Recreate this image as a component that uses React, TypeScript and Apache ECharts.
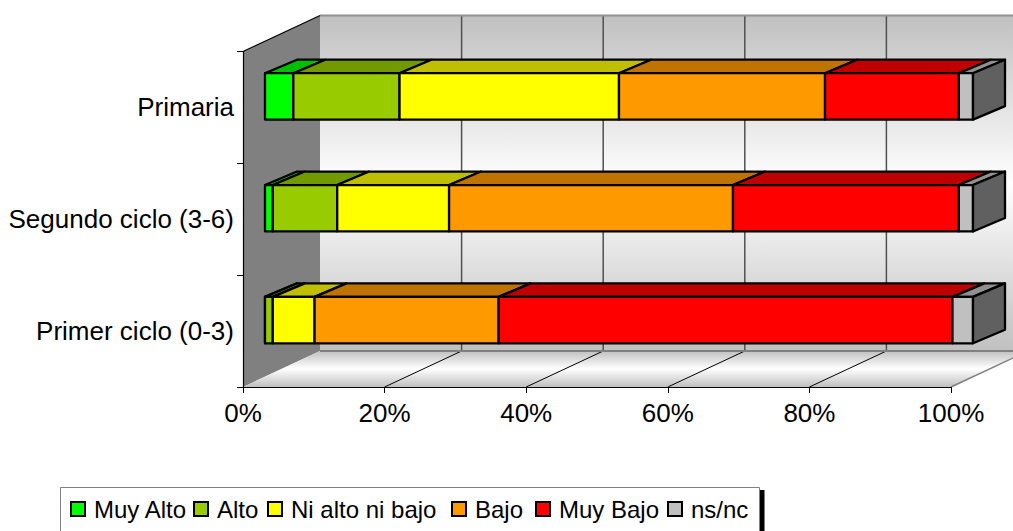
import React, { useEffect, useRef } from "react";
import * as echarts from "echarts";

const categories = ["Primer ciclo (0-3)", "Segundo ciclo (3-6)", "Primaria"];
const percentTicks = [0, 20, 40, 60, 80, 100];
const seriesNames = ["Muy Alto", "Alto", "Ni alto ni bajo", "Bajo", "Muy Bajo", "ns/nc"];
const muyAlto = [0, 1.1, 4];
const alto = [1.1, 9.1, 15];
const niAltoNiBajo = [5.9, 15.8, 31];
const bajo = [26, 40.1, 29.1];
const muyBajo = [64.1, 31.9, 18.9];
const nsNc = [2.9, 2, 2];
const seriesValues = [muyAlto, alto, niAltoNiBajo, bajo, muyBajo, nsNc];
const frontColors = ["#00ff00", "#99cc00", "#ffff00", "#ff9900", "#ff0000", "#c0c0c0"];
const topColors = ["#00bf00", "#739900", "#bfbf00", "#bf7300", "#bf0000", "#909090"];
const legendLefts = [70, 193, 267, 451, 535, 667];
const sideColor = "#606060";

const WALL_DX = 77;
const WALL_DY = -36;
const BAR_OFFSET_X = 22;
const BAR_OFFSET_Y = -11;
const BAR_DEPTH_X = 32;
const BAR_DEPTH_Y = -13.5;
const BAR_RATIO = 0.415;
const BAR_LINE = 2.3;

const stripes = () =>
  new echarts.graphic.LinearGradient(0, 0, 0, 1, [
    { offset: 0, color: "#c0c0c0" },
    { offset: 0.5, color: "#ffffff" },
    { offset: 1, color: "#c0c0c0" },
  ]);

const poly = (points: number[][], fill: any, stroke?: string, lineWidth = 0) => ({
  type: "polygon",
  shape: { points },
  style: { fill, stroke: stroke ?? "none", lineWidth, lineJoin: "round" },
});

const seg = (a: number[], b: number[], stroke: string, lineWidth: number) => ({
  type: "line",
  shape: { x1: a[0], y1: a[1], x2: b[0], y2: b[1] },
  style: { stroke, lineWidth },
});

const renderWalls = (_: any, api: any) => {
  const band = api.size([0, 1])[1];
  const cy0 = api.coord([0, 0])[1];
  const cy2 = api.coord([0, categories.length - 1])[1];
  const bottom = cy0 + band / 2;
  const top = cy2 - band / 2;
  const x0 = api.coord([0, 0])[0];
  const x1 = api.coord([100, 0])[0];
  const backL = x0 + WALL_DX;
  const backR = x1 + WALL_DX;
  const children: any[] = [
    poly([[backL, top + WALL_DY], [backR, top + WALL_DY], [backR, bottom + WALL_DY], [backL, bottom + WALL_DY]], stripes()),
    poly([[x0, top], [backL, top + WALL_DY], [backL, bottom + WALL_DY], [x0, bottom]], "#808080"),
    poly([[x0, bottom], [x1, bottom], [backR, bottom + WALL_DY], [backL, bottom + WALL_DY]], stripes()),
  ];
  percentTicks.slice(1).forEach((t) => {
    const x = api.coord([t, 0])[0];
    children.push(seg([x + WALL_DX, top + WALL_DY], [x + WALL_DX, bottom + WALL_DY], "#505050", 1.5));
    if (t < 100) children.push(seg([x, bottom], [x + WALL_DX, bottom + WALL_DY], "#000000", 1));
  });
  children.push(seg([backL, top + WALL_DY], [backR, top + WALL_DY], "#909090", 2));
  children.push(seg([backL, bottom + WALL_DY], [backR, bottom + WALL_DY], "#808080", 2));
  children.push(seg([x1, bottom], [backR, bottom + WALL_DY], "#808080", 1.5));
  children.push(seg([x0, top], [backL, top + WALL_DY], "#000000", 1.2));
  return { type: "group", children };
};

const makeBarRenderer = (index: number) => (_: any, api: any) => {
  const start = api.coord([api.value(0), api.value(2)]);
  const end = api.coord([api.value(1), api.value(2)]);
  const h = api.size([0, 1])[1] * BAR_RATIO;
  const xa = start[0] + BAR_OFFSET_X;
  const xb = end[0] + BAR_OFFSET_X;
  const yt = start[1] + BAR_OFFSET_Y - h / 2;
  const yb = start[1] + BAR_OFFSET_Y + h / 2;
  const children: any[] = [
    poly([[xa, yt], [xa + BAR_DEPTH_X, yt + BAR_DEPTH_Y], [xb + BAR_DEPTH_X, yt + BAR_DEPTH_Y], [xb, yt]], topColors[index], "#000000", BAR_LINE),
    poly([[xa, yt], [xb, yt], [xb, yb], [xa, yb]], frontColors[index], "#000000", BAR_LINE),
  ];
  if (index === seriesNames.length - 1) {
    children.push(
      poly([[xb, yt], [xb + BAR_DEPTH_X, yt + BAR_DEPTH_Y], [xb + BAR_DEPTH_X, yb + BAR_DEPTH_Y], [xb, yb]], sideColor, "#000000", BAR_LINE),
    );
  }
  return { type: "group", children };
};

const buildSeries = () => {
  const cumulative = categories.map(() => 0);
  return seriesNames.map((name, i) => {
    const data = categories.map((_, c) => {
      const s = cumulative[c];
      cumulative[c] = s + seriesValues[i][c];
      return [s, cumulative[c], c];
    });
    return {
      type: "custom",
      name,
      z: 3,
      silent: true,
      itemStyle: { color: frontColors[i], borderColor: "#000000", borderWidth: 2 },
      encode: { x: [0, 1], y: 2 },
      renderItem: makeBarRenderer(i),
      data,
    };
  });
};

export default function App() {
  const ref = useRef<HTMLDivElement>(null);
  useEffect(() => {
    const chart = echarts.init(ref.current!, undefined, { renderer: "svg" });
    chart.setOption({
      animation: false,
      backgroundColor: "#ffffff",
      textStyle: { fontFamily: "Liberation Sans", color: "#000000" },
      grid: { left: 243, top: 51.5, width: 708, height: 335.5, containLabel: false },
      xAxis: {
        type: "value",
        min: 0,
        max: 100,
        interval: 20,
        z: 5,
        axisLine: { show: true, lineStyle: { color: "#000000", width: 1.2 } },
        axisTick: { show: true, length: 6, lineStyle: { color: "#000000" } },
        splitLine: { show: false },
        axisLabel: { formatter: "{value}%", fontSize: 26, color: "#000000", margin: 13, fontFamily: "Liberation Sans" },
      },
      yAxis: {
        type: "category",
        data: categories,
        z: 5,
        axisLine: { show: true, lineStyle: { color: "#000000", width: 1.2 } },
        axisTick: { show: true, length: 6, alignWithLabel: false, lineStyle: { color: "#000000" } },
        axisLabel: { fontSize: 26, color: "#000000", margin: 9, fontFamily: "Liberation Sans" },
      },
      legend: seriesNames.map((name, i) => ({
        data: [name],
        left: legendLefts[i],
        top: 497,
        padding: 0,
        itemWidth: 14,
        itemHeight: 14,
        icon: "rect",
        selectedMode: false,
        textStyle: { fontSize: 24, color: "#000000", fontFamily: "Liberation Sans", padding: [0, 0, 0, 4] },
      })),
      graphic: [
        { type: "rect", z: 1, shape: { x: 759, y: 490, width: 5.5, height: 41 }, style: { fill: "#000000" } },
        { type: "rect", z: 2, shape: { x: 60.5, y: 487.5, width: 699, height: 60 }, style: { fill: "#ffffff", stroke: "#808080", lineWidth: 1 } },
      ],
      series: [
        { type: "custom", name: "walls", z: 1, silent: true, renderItem: renderWalls, encode: { x: 0, y: 1 }, data: [[0, 0]] },
        ...buildSeries(),
      ],
    });
    return () => chart.dispose();
  }, []);
  return <div ref={ref} style={{ position: "absolute", left: 0, top: 0, width: 1013, height: 531 }} />;
}
